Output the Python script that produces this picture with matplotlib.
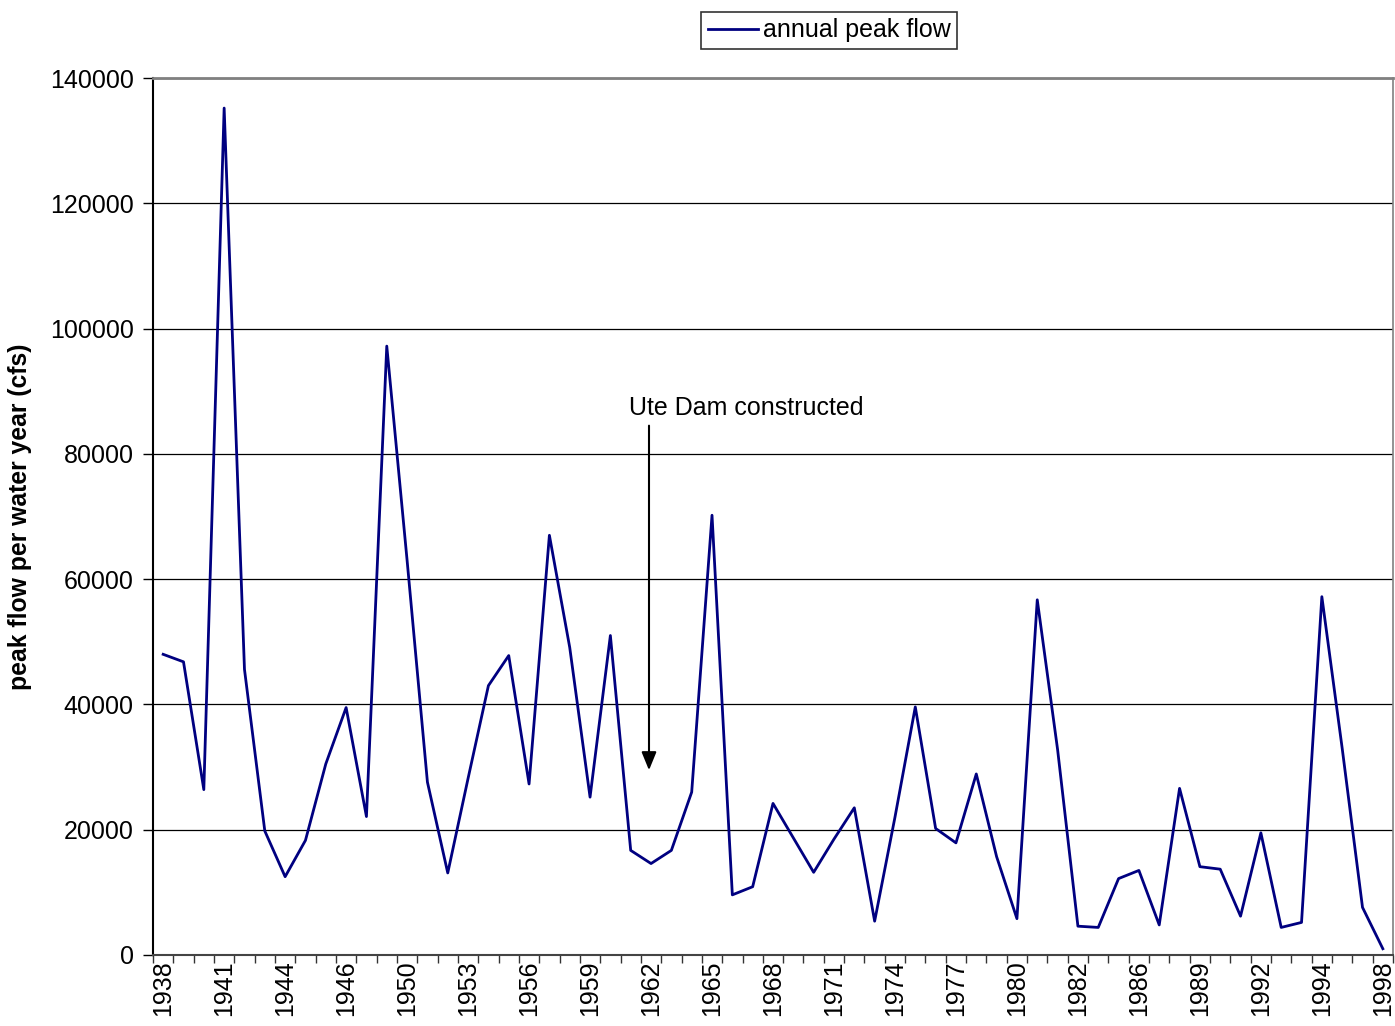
import numpy as np
import matplotlib
matplotlib.use("Agg")
import matplotlib.pyplot as plt

plt.rcParams['font.family'] = ['Liberation Sans', 'DejaVu Sans']

tick_labels = ["1938", "1941", "1944", "1946", "1950", "1953", "1956", "1959",
               "1962", "1965", "1968", "1971", "1974", "1977", "1980", "1982",
               "1986", "1989", "1992", "1994", "1998"]

peak_flow = [48000, 46800, 26400, 135200, 45600, 19800, 12500, 18300, 30500, 39500,
             22100, 97200, 63000, 27600, 13100, 28200, 43000, 47800, 27300, 67000,
             49100, 25200, 51000, 16700, 14600, 16700, 26000, 70200, 9600, 10900,
             24200, 18700, 13200, 18500, 23500, 5400, 22000, 39600, 20200, 17900,
             28900, 15700, 5800, 56700, 32800, 4600, 4400, 12200, 13500, 4800,
             26600, 14100, 13700, 6200, 19500, 4400, 5200, 57200, 33000, 7600,
             1000]

series_name = "annual peak flow"
annotation_text = "Ute Dam constructed"
ylabel = "peak flow per water year (cfs)"

n = len(peak_flow)
x = np.arange(n)

fig = plt.figure(figsize=(13.95, 10.26), dpi=100)
ax = fig.add_axes([153/1395, 1 - 955/1026, (1393-153)/1395, (955-78)/1026])

ax.plot(x, peak_flow, color='#000080', lw=2.0, label=series_name, zorder=3)

ax.set_xlim(-0.5, n - 0.5)
ax.set_ylim(0, 140000)
ax.set_yticks(np.arange(0, 140001, 20000))
ax.yaxis.grid(True, color='black', lw=0.9)
ax.set_axisbelow(True)

# category boundary ticks
ax.set_xticks(np.arange(-0.5, n, 1))
ax.set_xticklabels([])
ax.tick_params(axis='x', which='major', length=6, width=1, color='#333333', direction='out')
# labels every third category
ax.set_xticks(np.arange(0, n, 3), minor=True)
ax.set_xticklabels(tick_labels, minor=True, rotation=90, fontsize=18)
ax.tick_params(axis='x', which='minor', length=0, pad=4)
ax.tick_params(axis='y', length=7, width=1, labelsize=18, pad=7)

ax.spines['left'].set_color('black')
ax.spines['left'].set_linewidth(1.5)
ax.spines['bottom'].set_color('#444444')
ax.spines['bottom'].set_linewidth(1.5)
ax.spines['top'].set_color('#808080')
ax.spines['top'].set_linewidth(2)
ax.spines['right'].set_color('#808080')
ax.spines['right'].set_linewidth(1.2)

ax.annotate("", xy=(23.9, 29500), xytext=(23.9, 84500),
            arrowprops=dict(arrowstyle='-|>,head_length=1.1,head_width=0.45',
                            color='black', lw=1.5, shrinkA=0, shrinkB=0))
ax.text(28.7, 87300, annotation_text, ha='center', va='center', fontsize=18)

fig.text(20/1395, 1 - 517/1026, ylabel, rotation=90, ha='center', va='center',
         fontsize=17.8, fontweight='bold')

leg = fig.legend(loc='center', bbox_to_anchor=((701+957)/2/1395, 1 - 30.5/1026),
                 fontsize=18, frameon=True, fancybox=False, handlelength=2.0,
                 handletextpad=0.2, borderpad=0.25, borderaxespad=0)
leg.get_frame().set_edgecolor('black')
leg.get_frame().set_linewidth(1.2)

fig.savefig("out.png", dpi=100)
